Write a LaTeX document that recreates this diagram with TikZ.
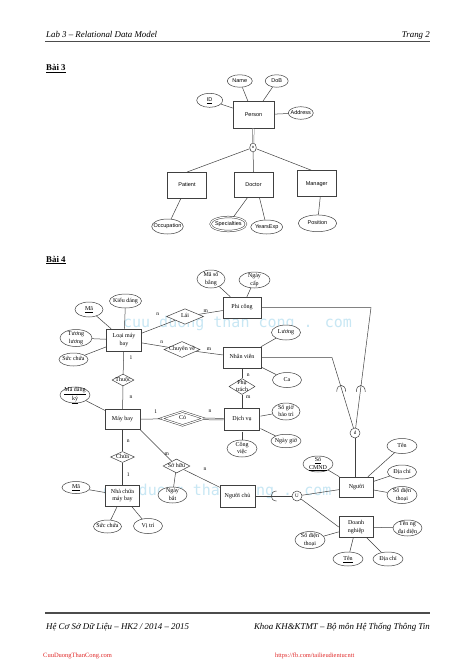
\documentclass[tikz,border=0pt]{standalone}
\usepackage{fontspec}
\setmainfont{Liberation Serif}
\newfontfamily\arialf{Liberation Sans}
\newfontfamily\wmfont{DejaVu Sans Mono}
\usetikzlibrary{shapes.geometric,calc}
\definecolor{wm}{RGB}{200,231,244}
\definecolor{lnk}{RGB}{225,40,40}
\newcommand\ztx[1]{\makebox[0pt][c]{\raisebox{\dimexpr(\depth-\height)/2\relax}[0pt][0pt]{\begin{tabular}{@{}c@{}}#1\end{tabular}}}}
\tikzset{
  ln/.style={draw=black!75, line width=0.5pt},
  ent/.style={rectangle, ln, fill=white, inner sep=0pt},
  att/.style={ellipse, ln, fill=white, inner sep=0pt},
  rel/.style={diamond, ln, fill=white, inner sep=0pt},
  dbl/.style={double, double distance=1.1pt},
  sz/.style 2 args={minimum width=#1, minimum height=#2},
  fa/.style={font=\arialf\fontsize{5.5}{6.5}\selectfont},
  fb/.style={font=\fontsize{6}{7.2}\selectfont},
  card/.style={font=\fontsize{5.5}{6}\selectfont, inner sep=0pt},
  hdr/.style={font=\fontsize{8.86}{10}\selectfont\itshape, inner sep=0pt},
}
\begin{document}
\begin{tikzpicture}[x=1pt,y=-1pt]
\useasboundingbox (0,0) rectangle (474,670);
\fill[white] (0,0) rectangle (474,670);

% header / footer
\node[hdr, anchor=base west] (hl) at (46,37) {Lab 3 – Relational Data Model};
\node[hdr, anchor=base east] (hr) at (430,37) {Trang 2};
\draw[black!70, line width=1.1pt] (45,41.5) -- (430,41.5);
\node[anchor=base west, inner sep=0pt, font=\fontsize{8.86}{10}\selectfont\bfseries] (b3) at (46,70.5) {\underline{Bài 3}};
\node[anchor=base west, inner sep=0pt, font=\fontsize{8.86}{10}\selectfont\bfseries] (b4) at (46,262) {\underline{Bài 4}};
\draw[black!70, line width=1.1pt] (45,613) -- (430,613);
\node[hdr, anchor=base west] (fl) at (46,629) {Hệ Cơ Sở Dữ Liệu – HK2 / 2014 – 2015};
\node[hdr, anchor=base east] (fr) at (430,629) {Khoa KH\&KTMT – Bộ môn Hệ Thống Thông Tin};
\node[anchor=base west, inner sep=0pt, text=lnk, font=\fontsize{6.5}{7}\selectfont] (k1) at (43,657) {CuuDuongThanCong.com};
\node[anchor=base west, inner sep=0pt, text=lnk, font=\fontsize{6.4}{7}\selectfont] (k2) at (275,657) {https://fb.com/tailieudientucntt};

% watermark
\node[inner sep=0pt, text=wm, font=\wmfont\fontsize{15}{15}\selectfont] (wm1) at (237.5,323) {cuu duong than cong . com};
\node[inner sep=0pt, text=wm, font=\wmfont\fontsize{15}{15}\selectfont] (wm2) at (217,491) {cuu duong than cong . com};

% ===== Bai 3 =====
\begin{scope}[fa]
\node[ent, sz={41}{27}] (person) at (253.5,115) {\ztx{Person}};
\node[att, sz={25}{12.5}] (name) at (239.8,81) {\ztx{Name}};
\node[att, sz={23}{12.5}] (dob) at (276.7,81) {\ztx{DoB}};
\node[att, sz={26}{14}] (id) at (209.7,100.3) {\ztx{\underline{ID}}};
\node[att, sz={25}{12.6}] (addr) at (300.8,113) {\ztx{Address}};
\node[att, sz={6.5}{9}, font=\arialf\fontsize{4}{4}\selectfont] (isa) at (253,147.5) {\ztx{o}};
\node[ent, sz={39.4}{26}] (patient) at (187,185.3) {\ztx{Patient}};
\node[ent, sz={39}{25}] (doctor) at (253.5,184.8) {\ztx{Doctor}};
\node[ent, sz={38.7}{26}] (manager) at (316.7,183.7) {\ztx{Manager}};
\node[att, sz={31.6}{15}] (occ) at (167.5,226.5) {\ztx{Occupation}};
\node[att, dbl, sz={35.5}{14}] (spec) at (228.3,224) {\ztx{Specialties}};
\node[att, sz={32}{14}] (yexp) at (266.7,227) {\ztx{YearsExp}};
\node[att, sz={38.4}{16.7}] (pos) at (317.5,223.3) {\ztx{Position}};
\end{scope}
\draw[ln] (name) -- (person);
\draw[ln] (dob) -- (person);
\draw[ln] (id) -- (person);
\draw[ln] (addr) -- (person);
\draw[ln, dbl, draw=black!55] (person) -- (isa);
\draw[ln] (isa) -- (patient.north);
\draw[ln] (isa) -- (doctor.north);
\draw[ln] (isa) -- (manager.110);
\draw[ln] (patient.245) -- (occ);
\draw[ln] (doctor.245) -- (spec);
\draw[ln] (doctor.295) -- (yexp);
\draw[ln] (manager.285) -- (pos);

% ===== Bai 4 =====
\begin{scope}[fb]
\node[ent, sz={35}{22}] (lmb) at (124,340) {\ztx{Loại máy\\bay}};
\node[att, sz={32}{14}] (kd) at (125.5,301) {\ztx{Kiểu dáng}};
\node[att, sz={28}{15}] (ma1) at (89,309.5) {\ztx{\underline{Mã}}};
\node[att, sz={32}{17}] (tl) at (76,338) {\ztx{Tương\\lương}};
\node[att, sz={29}{13}] (sc1) at (73.5,359.5) {\ztx{Sức chứa}};
\node[rel, sz={37}{15.5}] (lai) at (185,316.5) {\ztx{Lái}};
\node[ent, sz={38}{21}] (pc) at (242,307.5) {\ztx{Phi công}};
\node[att, sz={28}{18}] (msb) at (211,279) {\ztx{Mã số\\bằng}};
\node[att, sz={31}{16}] (nc) at (254.5,280) {\ztx{Ngày\\cấp}};
\node[rel, sz={36}{16}] (cv) at (182,349.5) {\ztx{Chuyên về}};
\node[ent, sz={38}{21}] (nv) at (242,357.5) {\ztx{Nhân viên}};
\node[att, sz={29}{15}] (luong) at (286,332.5) {\ztx{Lương}};
\node[att, sz={29}{15}] (ca) at (287,380) {\ztx{Ca}};
\node[rel, sz={22}{12}] (thuoc) at (123,380) {\ztx{Thuộc}};
\node[ent, sz={35}{20}] (mb) at (122.5,419.5) {\ztx{Máy bay}};
\node[att, sz={30}{16}] (mdk) at (75,395) {\ztx{\underline{Mã đăng}\\\underline{ký}}};
\node[rel, dbl, sz={43}{14}] (co) at (182.5,418.5) {\ztx{Có}};
\node[ent, dbl, sz={36.5}{23.5}] (dv) at (242,419.5) {\ztx{Dịch vụ}};
\node[rel, sz={26}{16}] (pt) at (242,386.5) {\ztx{Phụ\\trách}};
\node[att, sz={28}{17}] (sgbt) at (286,411.5) {\ztx{Số giờ\\bảo trì}};
\node[att, sz={30}{13.5}] (ng) at (286,441) {\ztx{Ngày giờ}};
\node[att, sz={30}{17}] (cvi) at (242,448.5) {\ztx{Công\\việc}};
\node[rel, sz={24}{11}] (chua) at (122.5,457) {\ztx{Chứa}};
\node[rel, sz={27}{14}] (sohuu) at (176.5,466) {\ztx{Sở hữu}};
\node[ent, sz={34}{21}] (ncmb) at (122.5,495.5) {\ztx{Nhà chứa\\máy bay}};
\node[att, sz={28}{12}] (ma2) at (76,487.5) {\ztx{\underline{Mã}}};
\node[att, sz={28}{13}] (sc2) at (107.5,526.5) {\ztx{Sức chứa}};
\node[att, sz={29}{15}] (vt) at (148,526) {\ztx{Vị trí}};
\node[att, sz={29}{16}] (nbd) at (172.5,495) {\ztx{Ngày\\bắt}};
\node[ent, sz={35}{21.5}] (nchu) at (237.5,496) {\ztx{Người chủ}};
\node[att, sz={10}{10}, font=\fontsize{5}{5}\selectfont] (uC) at (297,496) {\ztx{U}};
\node[att, sz={10}{10}, font=\fontsize{5}{5}\selectfont] (dC) at (355,433) {\ztx{d}};
\node[ent, sz={34}{20}] (nguoi) at (356.5,487) {\ztx{Người}};
\node[att, sz={30}{16}] (cmnd) at (318,464) {\ztx{\underline{Số}\\\underline{CMND}}};
\node[att, sz={30}{15}] (ten1) at (402,446) {\ztx{Tên}};
\node[att, sz={29}{14}] (dc1) at (402,472) {\ztx{Địa chỉ}};
\node[att, sz={30}{17}] (sdt1) at (402,495) {\ztx{Số điện\\thoại}};
\node[ent, sz={34}{21}] (dn) at (356,527) {\ztx{Doanh\\nghiệp}};
\node[att, sz={29}{16}] (tnd) at (407.5,528) {\ztx{Tên ng\\đại diện}};
\node[att, sz={30}{17}] (sdt2) at (310,540) {\ztx{Số điện\\thoại}};
\node[att, sz={30}{14}] (ten2) at (348,559) {\ztx{\underline{Tên}}};
\node[att, sz={30}{14}] (dc2) at (388,559) {\ztx{Địa chỉ}};
\end{scope}

\coordinate (b1) at (371,307.5);
\coordinate (b2) at (332,357.5);

\draw[ln] (kd) -- (lmb);
\draw[ln] (ma1) -- (lmb);
\draw[ln] (tl) -- (lmb);
\draw[ln] (sc1) -- (lmb);
\draw[ln] (lmb) -- (lai);
\draw[ln] (lai) -- (pc);
\draw[ln] (msb) -- (pc);
\draw[ln] (nc) -- (pc);
\draw[ln] (lmb) -- (cv);
\draw[ln] (cv) -- (nv);
\draw[ln] (nv) -- (luong);
\draw[ln] (nv) -- (ca);
\draw[ln] (lmb) -- (thuoc);
\draw[ln] (thuoc) -- (mb);
\draw[ln] (mdk) -- (mb);
\draw[ln] (mb) -- (co);
\draw[ln, dbl] (co) -- (dv);
\draw[ln] (nv) -- (pt);
\draw[ln] (pt) -- (dv);
\draw[ln] (dv) -- (sgbt);
\draw[ln] (dv) -- (ng);
\draw[ln] (dv) -- (cvi);
\draw[ln] (mb) -- (chua);
\draw[ln] (chua) -- (ncmb);
\draw[ln] (ma2) -- (ncmb);
\draw[ln] (ncmb) -- (sc2);
\draw[ln] (ncmb) -- (vt);
\draw[ln] (mb.south east) -- (sohuu);
\draw[ln] (sohuu) -- (nchu);
\draw[ln] (sohuu) -- (nbd);
\draw[ln] (nchu) -- (uC);
\draw[ln] (uC) -- (nguoi);
\draw[ln] (uC) -- (dn.west);
\draw[ln] (pc) -- (b1) -- (dC);
\draw[ln] (nv) -- (b2) -- (dC);
\draw[ln] (dC) -- (dC |- nguoi.north);
\draw[ln] (cmnd) -- (nguoi);
\draw[ln] (ten1) -- (nguoi);
\draw[ln] (dc1) -- (nguoi);
\draw[ln] (sdt1) -- (nguoi);
\draw[ln] (dn) -- (tnd);
\draw[ln] (dn) -- (sdt2);
\draw[ln] (dn) -- (ten2);
\draw[ln] (dn) -- (dc2);

% subset arcs
\coordinate (a1) at ($(b2)!0.4!(dC)$);
\coordinate (a2) at ($(b1)!0.64!(dC)$);
\coordinate (a3) at (273,496);
\draw[ln] ($(a1)+(-4.5,4)$) .. controls ($(a1)+(-4.5,-4.5)$) and ($(a1)+(4.5,-4.5)$) .. ($(a1)+(4.5,4)$);
\draw[ln] ($(a2)+(-4.5,4)$) .. controls ($(a2)+(-4.5,-4.5)$) and ($(a2)+(4.5,-4.5)$) .. ($(a2)+(4.5,4)$);
\draw[ln] ($(a3)+(3.5,-5)$) .. controls ($(a3)+(-3.5,-5)$) and ($(a3)+(-3.5,5)$) .. ($(a3)+(3.5,5)$);

% cardinalities
\node[card] (c1) at (157.7,314) {n};
\node[card] (c2) at (205.7,310.7) {m};
\node[card] (c3) at (161.7,341.7) {n};
\node[card] (c4) at (209,349.3) {m};
\node[card] (c5) at (131,357.7) {1};
\node[card] (c6) at (131,396.7) {n};
\node[card] (c7) at (155.7,411.7) {1};
\node[card] (c8) at (210,411) {n};
\node[card] (c9) at (248.3,375) {n};
\node[card] (c10) at (248.3,397) {m};
\node[card] (c11) at (128.3,441) {n};
\node[card] (c12) at (128.3,475) {1};
\node[card] (c13) at (166.7,454) {m};
\node[card] (c14) at (205,469.3) {n};
\end{tikzpicture}
\end{document}
